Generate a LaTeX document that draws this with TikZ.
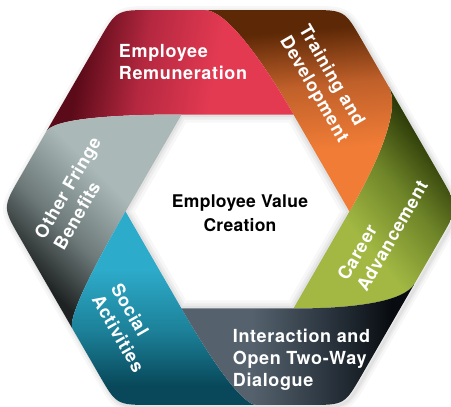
\documentclass[tikz,border=0pt]{standalone}
\usepackage{fontspec}
\newfontfamily\ribbonfont[LetterSpace=3.5]{TeX Gyre Heros}
\newfontfamily\hubfont[LetterSpace=1.5]{TeX Gyre Heros}
\usetikzlibrary{calc}

% ribbon colours: dark fold, middle, bright end
\definecolor{remdark}{HTML}{5A0A18}\definecolor{remmid}{HTML}{B52840}\definecolor{remlight}{HTML}{E33A52}
\definecolor{trndark}{HTML}{5C2806}\definecolor{trnmid}{HTML}{C0602A}\definecolor{trnlight}{HTML}{F07C36}
\definecolor{cardark}{HTML}{2C3A08}\definecolor{carmid}{HTML}{6E8428}\definecolor{carlight}{HTML}{A2B843}
\definecolor{diadark}{HTML}{080C10}\definecolor{diamid}{HTML}{2C3640}\definecolor{dialight}{HTML}{55626D}
\definecolor{socdark}{HTML}{08485A}\definecolor{socmid}{HTML}{1C8098}\definecolor{soclight}{HTML}{2DABCA}
\definecolor{frgdark}{HTML}{1E2222}\definecolor{frgmid}{HTML}{6E7A7A}\definecolor{frglight}{HTML}{AAB8B8}

% fold shading: bright for most of the band, dark at the folded end
\colorlet{folddark}{black}\colorlet{foldmid}{gray}\colorlet{foldlight}{white}
\pgfdeclareverticalshading[folddark,foldmid,foldlight]{fold}{100bp}{%
  color(0bp)=(foldlight); color(40bp)=(foldlight); color(56bp)=(foldmid);
  color(70bp)=(folddark); color(100bp)=(folddark)}

\begin{document}
\begin{tikzpicture}[x=1pt,y=1pt]

\tikzstyle{ribbon}=[text=white,align=left,font=\ribbonfont\bfseries\fontsize{18}{22}\selectfont];
\tikzstyle{hub}=[text=black,align=center,font=\hubfont\bfseries\fontsize{17.5}{24}\selectfont];
\tikzstyle{haze}=[black,line join=round];

\useasboundingbox (0,0) rectangle (451,407);

% corners of the outer ring and of the hole
\coordinate (oc) at (230.5,199.5);
\coordinate (ic) at (237.5,195.5);
\foreach \k in {0,...,5} {
  \coordinate (o\k) at ($(oc)+(60*\k:228)$);
  \coordinate (i\k) at ($(ic)+(60*\k:112)$);
}
% start of each fold, rounding points and curve handles
\foreach \k/\n/\p in {0/1/5,1/2/0,2/3/1,3/4/2,4/5/3,5/0/4} {
  \coordinate (P\k) at ($(o\k)!0.614!(o\n)$);
  \coordinate (ta\k) at ($(o\k)!35pt!(o\p)$);
  \coordinate (tb\k) at ($(o\k)!35pt!(o\n)$);
  \coordinate (X\k) at (intersection of {o\k}--{o\n} and {i\k}--{i\p});
  \coordinate (a\k) at ($(P\k)!0.7!(X\k)$);
  \coordinate (b\k) at ($(i\k)!0.6!(X\k)$);
}

% soft shadow under the ring
\foreach \w/\op in {12/0.03,7/0.04,3/0.05}
  \draw[haze,line width=\w,opacity=\op,transform canvas={shift={(2,-2)}}]
    (ta0) \foreach \k in {0,...,5} {-- (ta\k) .. controls (o\k) .. (tb\k)} -- cycle;

% the six folded ribbons
\foreach \k/\p/\col/\ang in {0/5/car/-50,1/0/trn/5,2/1/rem/80,3/2/frg/135,4/3/soc/180,5/4/dia/270} {
  \colorlet{folddark}{\col dark}\colorlet{foldmid}{\col mid}\colorlet{foldlight}{\col light}
  \shade[shading=fold,shading angle=\ang]
    (P\k) .. controls (a\k) and (b\k) .. (i\k) -- (i\p)
    .. controls (b\p) and (a\p) .. (P\p) -- (ta\k) .. controls (o\k) .. (tb\k) -- cycle;
}

% shadow inside the hole
\begin{scope}
\clip (i0) -- (i1) -- (i2) -- (i3) -- (i4) -- (i5) -- cycle;
\foreach \w/\op in {16/0.03,10/0.04,5/0.05}
  \draw[haze,line width=\w,opacity=\op] (i0) -- (i1) -- (i2) -- (i3) -- (i4) -- (i5) -- cycle;
\end{scope}

\node[ribbon] (remuneration) at (183,345) {Employee\\Remuneration};
\node[ribbon,rotate=-60] (training) at (323,323) {Training and\\Development};
\node[ribbon,rotate=60] (career) at (382.5,176.5) {Career\\Advancement};
\node[ribbon] (dialogue) at (301.5,47) {Interaction and\\Open Two-Way\\Dialogue};
\node[ribbon,rotate=-60] (social) at (128,79) {Social\\Activities};
\node[ribbon,rotate=60] (fringe) at (77,214) {Other Fringe\\Benefits};
\node[hub] (hub) at (240,193.6) {Employee Value\\Creation};

\end{tikzpicture}
\end{document}
